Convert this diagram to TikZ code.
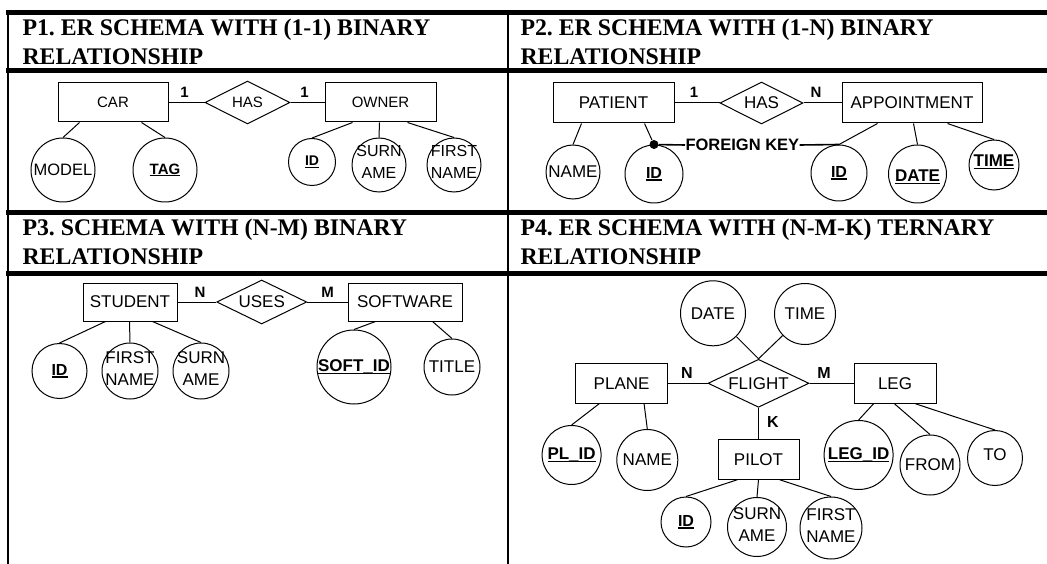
\documentclass[tikz,border=0pt]{standalone}
\usepackage{fontspec}
\setmainfont{Liberation Sans}
\newfontfamily\hdrfont{Liberation Serif}
\usetikzlibrary{shapes.geometric}
\newcommand\ulb[1]{\setbox0=\hbox{\bfseries #1}\rlap{\rule[-2.4pt]{\wd0}{1.5pt}}\box0}
\newcommand\fsz[2]{\fontsize{#1}{#2}\selectfont}
\frenchspacing
\begin{document}
\begin{tikzpicture}[x=1pt,y=-1pt,line width=1pt,
  ent/.style={draw, rectangle, inner sep=0pt, font=\fsz{17}{20}},
  rel/.style={draw, diamond, shape aspect=2, inner sep=0pt, font=\fsz{17}{20}},
  attr/.style={draw, circle, inner sep=0pt},
  atxt/.style={inner sep=0pt, align=center, font=\fsz{17}{22}},
  card/.style={inner sep=0pt, font=\bfseries\fsz{15}{18}},
  hdr/.style={anchor=base west, inner sep=0pt, font=\hdrfont\bfseries\fsz{23.8}{29}},
  tabrule/.style={line width=4.5pt},
  tabvert/.style={line width=2.5pt}]
\useasboundingbox (0,0) rectangle (1047,564);
\fill[white] (0,0) rectangle (1047,564);

% ---------- table ----------
\draw[tabrule] (6,12.5) -- (1047,12.5);
\draw[tabrule] (6,70.5) -- (1047,70.5);
\draw[tabrule] (6,212.5) -- (1047,212.5);
\draw[tabrule] (6,273.5) -- (1047,273.5);
\draw[tabvert] (8,10) -- (8,564);
\draw[tabvert] (508,10) -- (508,564);

% ---------- headers ----------
\node[hdr] (h1a) at (22,36) {P1. ER SCHEMA WITH (1-1) BINARY};
\node[hdr] (h1b) at (22,65) {RELATIONSHIP};
\node[hdr] (h2a) at (520,36) {P2. ER SCHEMA WITH (1-N) BINARY};
\node[hdr] (h2b) at (520,65) {RELATIONSHIP};
\node[hdr] (h3a) at (22,236) {P3. SCHEMA WITH (N-M) BINARY};
\node[hdr] (h3b) at (22,265) {RELATIONSHIP};
\node[hdr] (h4a) at (520,236) {P4. ER SCHEMA WITH (N-M-K) TERNARY};
\node[hdr] (h4b) at (520,265) {RELATIONSHIP};

% ---------- P1 ----------
\node[ent, font=\fsz{15}{18}, minimum width=110, minimum height=39] (car) at (113,102.5) {CAR};
\node[rel, font=\fsz{15}{18}, minimum width=85, minimum height=43] (p1has) at (247.5,102.5) {HAS};
\node[ent, font=\fsz{15}{18}, minimum width=111, minimum height=39] (owner) at (380.5,102.5) {OWNER};
\draw (car.east) -- (p1has.west);
\draw (p1has.east) -- (owner.west);
\node[card] (p1c1) at (184.5,92) {1};
\node[card] (p1c2) at (304.5,92) {1};

\node[attr, minimum size=64] (p1model) at (63,170) {};
\node[atxt, font=\fsz{16.5}{22}] (p1modelT) at (p1model) {MODEL};
\node[attr, minimum size=64] (p1tag) at (165,170) {};
\node[atxt, font=\fsz{15}{22}] (p1tagT) at (p1tag) {\ulb{TAG}};
\node[attr, minimum size=47] (p1id) at (312,162) {};
\node[atxt, font=\fsz{14}{22}] (p1idT) at (p1id) {\ulb{ID}};
\node[attr, minimum size=54] (p1sur) at (379,165) {};
\node[atxt, font=\fsz{16}{22}] (p1surT) at (379,162) {SURN\\AME};
\node[attr, minimum size=54] (p1fir) at (454,165) {};
\node[atxt, font=\fsz{16}{22}] (p1firT) at (454,162) {FIRST\\NAME};
\draw ([xshift=22pt]car.south west) -- (p1model.north);
\draw ([xshift=84pt]car.south west) -- (p1tag.north);
\draw ([xshift=28pt]owner.south west) -- (p1id.north);
\draw ([xshift=55pt]owner.south west) -- (p1sur.north);
\draw ([xshift=83pt]owner.south west) -- (p1fir.north);

% ---------- P2 ----------
\node[ent, minimum width=121, minimum height=40] (patient) at (613.5,103) {PATIENT};
\node[rel, minimum width=83, minimum height=42] (p2has) at (761.5,103) {HAS};
\node[ent, minimum width=140, minimum height=40] (appt) at (912,103) {APPOINTMENT};
\draw (patient.east) -- (p2has.west);
\draw (p2has.east) -- (appt.west);
\node[card] (p2c1) at (694,92) {1};
\node[card] (p2cN) at (816,92) {N};

\node[attr, minimum size=54] (p2name) at (573,172) {};
\node[atxt] (p2nameT) at (p2name) {NAME};
\node[attr, minimum size=58] (p2id) at (654,174) {};
\node[atxt, font=\fsz{16}{22}] (p2idT) at (p2id) {\ulb{ID}};
\node[attr, minimum size=56] (p2id2) at (839,173) {};
\node[atxt, font=\fsz{16}{22}] (p2id2T) at (p2id2) {\ulb{ID}};
\node[attr, minimum size=58] (p2date) at (917.5,174) {};
\node[atxt] (p2dateT) at (917.5,177) {\ulb{DATE}};
\node[attr, minimum size=50] (p2time) at (994,165) {};
\node[atxt] (p2timeT) at (994,162) {\ulb{TIME}};
\node[circle, fill, inner sep=0pt, minimum size=9] (fkdot) at (p2id.north) {};
\node[inner sep=0pt, anchor=west, font=\bfseries\fsz{16.5}{20}] (fk) at (685,145) {FOREIGN KEY};
\draw ([xshift=29pt]patient.south west) -- (p2name.north);
\draw ([xshift=92pt]patient.south west) -- (fkdot);
\draw[line width=1.6pt] (fkdot) -- (fk.west);
\draw[line width=1.6pt] (fk.east) -- (p2id2.north);
\draw ([xshift=36pt]appt.south west) -- (p2id2.north);
\draw ([xshift=72pt]appt.south west) -- (p2date.north);
\draw ([xshift=106pt]appt.south west) -- (p2time.north);

% ---------- P3 ----------
\node[ent, minimum width=94, minimum height=38] (student) at (130,302) {STUDENT};
\node[rel, minimum width=90, minimum height=44] (uses) at (261.7,302) {USES};
\node[ent, minimum width=114, minimum height=38] (software) at (405,302) {SOFTWARE};
\draw (student.east) -- (uses.west);
\draw (uses.east) -- (software.west);
\node[card] (p3cN) at (200,292) {N};
\node[card] (p3cM) at (327.5,292) {M};

\node[attr, minimum size=55] (p3id) at (59.5,371) {};
\node[atxt, font=\fsz{16}{22}] (p3idT) at (p3id) {\ulb{ID}};
\node[attr, minimum size=56] (p3fir) at (130,371) {};
\node[atxt] (p3firT) at (130,369) {FIRST\\NAME};
\node[attr, minimum size=56] (p3sur) at (201,371) {};
\node[atxt] (p3surT) at (201,369) {SURN\\AME};
\node[attr, minimum size=74] (p3sid) at (354,367) {};
\node[atxt] (p3sidT) at (p3sid) {\ulb{SOFT\_ID}};
\node[attr, minimum size=56] (p3tit) at (452,367) {};
\node[atxt] (p3titT) at (p3tit) {TITLE};
\draw ([xshift=23pt]student.south west) -- (p3id.north);
\draw ([xshift=47pt]student.south west) -- (p3fir.north);
\draw ([xshift=70pt]student.south west) -- (p3sur.north);
\draw ([xshift=28pt]software.south west) -- (p3sid.north);
\draw ([xshift=85pt]software.south west) -- (p3tit.north);

% ---------- P4 ----------
\node[ent, minimum width=92, minimum height=40] (plane) at (621.6,383.3) {PLANE};
\node[rel, minimum width=101, minimum height=48] (flight) at (758.5,383.3) {FLIGHT};
\node[ent, minimum width=82, minimum height=40] (leg) at (895,383.3) {LEG};
\node[ent, minimum width=81, minimum height=40] (pilot) at (758.5,459.2) {PILOT};
\draw (plane.east) -- (flight.west);
\draw (flight.east) -- (leg.west);
\draw (flight.south) -- (pilot.north);
\node[card, font=\bfseries\fsz{16}{18}] (p4cN) at (687,373) {N};
\node[card, font=\bfseries\fsz{16}{18}] (p4cM) at (824,373) {M};
\node[card, font=\bfseries\fsz{16}{18}] (p4cK) at (773,422) {K};

\node[attr, minimum size=65] (p4date) at (713,313.3) {};
\node[atxt] (p4dateT) at (p4date) {DATE};
\node[attr, minimum size=61] (p4time) at (805,314) {};
\node[atxt] (p4timeT) at (p4time) {TIME};
\draw (p4date) -- (flight.north);
\draw (p4time) -- (flight.north);

\node[attr, minimum size=59] (p4plid) at (571.6,455) {};
\node[atxt] (p4plidT) at (p4plid) {\ulb{PL\_ID}};
\node[attr, minimum size=61] (p4name) at (647.3,460) {};
\node[atxt] (p4nameT) at (p4name) {NAME};
\draw ([xshift=24pt]plane.south west) -- (p4plid.north);
\draw ([xshift=69pt]plane.south west) -- (p4name.north);

\node[attr, minimum size=69] (p4legid) at (858.6,455) {};
\node[atxt] (p4legidT) at (p4legid) {\ulb{LEG\_ID}};
\node[attr, minimum size=60] (p4from) at (930,465) {};
\node[atxt] (p4fromT) at (p4from) {FROM};
\node[attr, minimum size=55] (p4to) at (995,458) {};
\node[atxt] (p4toT) at (995,455) {TO};
\draw ([xshift=20pt]leg.south west) -- (p4legid.north);
\draw ([xshift=41pt]leg.south west) -- (p4from.north);
\draw ([xshift=62pt]leg.south west) -- (p4to.north);

\node[attr, minimum size=50] (p4id) at (686,522) {};
\node[atxt, font=\fsz{16}{22}] (p4idT) at (p4id) {\ulb{ID}};
\node[attr, minimum size=59] (p4sur) at (757,527) {};
\node[atxt] (p4surT) at (757,525) {SURN\\AME};
\node[attr, minimum size=62] (p4fir) at (831,528) {};
\node[atxt] (p4firT) at (831,526) {FIRST\\NAME};
\draw ([xshift=20pt]pilot.south west) -- (p4id.north);
\draw (pilot.south) -- (p4sur.north);
\draw ([xshift=62pt]pilot.south west) -- (p4fir.north);
\end{tikzpicture}
\end{document}
